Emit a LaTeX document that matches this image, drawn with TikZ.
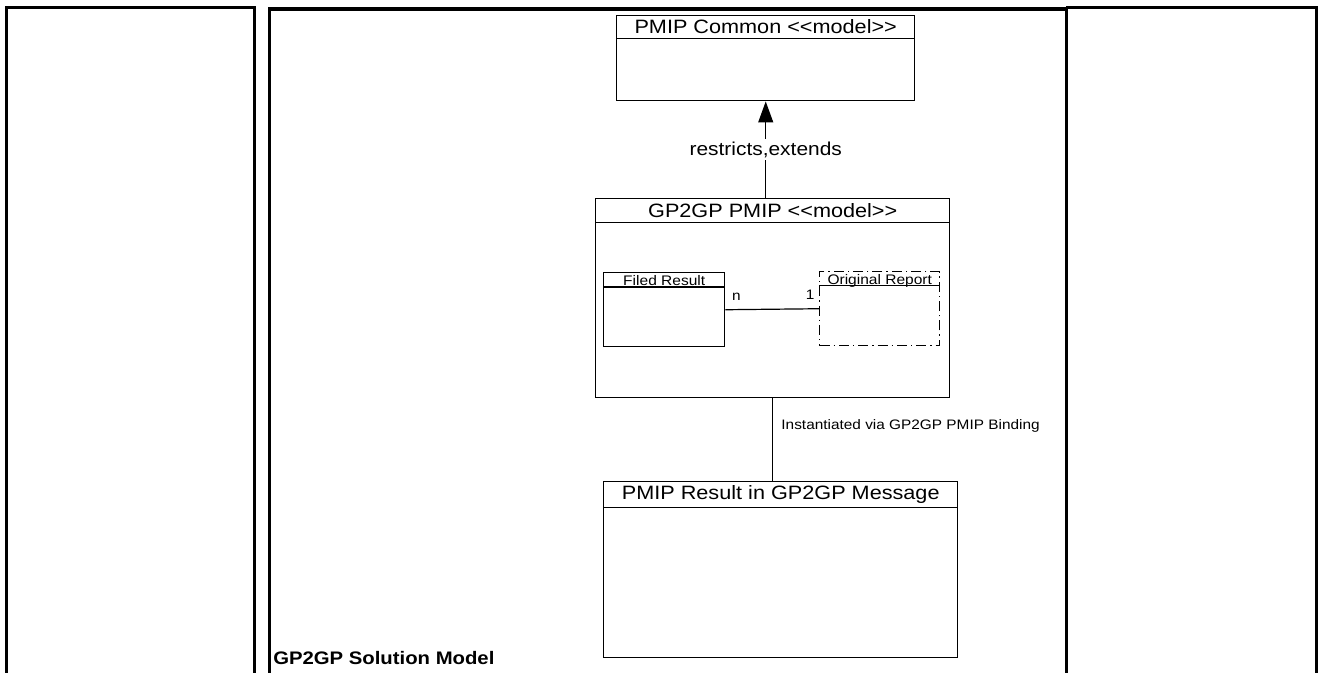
\documentclass[tikz,border=0pt]{standalone}
\usepackage{fontspec}
\setmainfont{Liberation Sans}[FakeStretch=1.12,Ligatures=TeXOff]
\usepackage{tikz}
\usetikzlibrary{arrows.meta,positioning}

\begin{document}
\begin{tikzpicture}[x=0.75pt,y=-0.75pt,
    frame/.style={line width=2.25pt},
    umlbox/.style={draw,line width=1.1pt,rectangle,anchor=north west,inner sep=0pt},
    bigtitle/.style={font=\fontsize{14.5pt}{16pt}\selectfont,inner sep=0pt,anchor=north},
    smalltitle/.style={font=\fontsize{10.4pt}{12pt}\selectfont,inner sep=0pt,anchor=base},
    lbl/.style={font=\fontsize{10.3pt}{12pt}\selectfont,inner sep=0pt},
    conn/.style={line width=0.9pt}]
    \useasboundingbox (0,0) rectangle (1322,673);
    % swimlane frame
    \draw[frame] (6,673) -- (6,8) -- (254,8) -- (254,673);
    \draw[frame] (269,673) -- (269,9) -- (1066,9) -- (1066,673);
    \draw[frame,line width=3pt] (269,9) -- (1066,9);
    \draw[frame] (1066,8) -- (1316,8) -- (1316,673);
    \node(sol)[anchor=west,inner sep=0pt,font=\bfseries\fontsize{13.6pt}{15pt}\selectfont] at (273,658) {GP2GP Solution Model};
    % models
    \node(pmc)[umlbox,minimum width=223.5pt,minimum height=63.75pt] at (616,15) {};
    \node(pmct)[bigtitle,minimum height=17.25pt] at (pmc.north) {PMIP Common <<model>>};
    \draw[line width=1.1pt] (pmc.west |- pmct.south) -- (pmc.east |- pmct.south);
    \node(gpm)[umlbox,minimum width=265.5pt,minimum height=149.25pt] at (595,198) {};
    \node(gpmt)[bigtitle,minimum height=18pt] at (gpm.north) {GP2GP PMIP <<model>>};
    \draw[line width=1.1pt] (gpm.west |- gpmt.south) -- (gpm.east |- gpmt.south);
    \node(res)[umlbox,minimum width=265.5pt,minimum height=132pt] at (603,481) {};
    \node(rest)[bigtitle,minimum height=19.5pt] at (res.north) {PMIP Result in GP2GP Message};
    \draw[line width=1.1pt] (res.west |- rest.south) -- (res.east |- rest.south);
    % classes
    \node(fr)[umlbox,minimum width=90.75pt,minimum height=55.5pt] at (603,272) {};
    \node(frt)[smalltitle] at ([yshift=-10.5pt]fr.north) {Filed Result};
    \draw[line width=1.1pt] ([yshift=-11.25pt]fr.north west) -- ([yshift=-11.25pt]fr.north east);
    \node(orp)[umlbox,minimum width=90pt,minimum height=55.5pt,
        dash pattern=on 7.5pt off 3pt on 1pt off 3pt] at (819,271) {};
    \node(orpt)[smalltitle] at ([yshift=-10pt]orp.north) {Original Report};
    \draw[line width=0.9pt] ([yshift=-11pt]orp.north west) -- ([yshift=-11pt]orp.north east);
    % connectors
    \draw[conn] (fr.east) -- node[lbl,pos=0,above right=6.75pt and 4.5pt]{n}
        node[lbl,pos=1,above left=6.75pt and 3pt]{1} (orp.west);
    \draw[line width=0.75pt,-{Triangle[length=15.75pt,width=11.25pt]}] (pmc.south |- gpm.north)
        -- node[fill=white,inner sep=2pt,font=\fontsize{14pt}{16pt}\selectfont]{restricts,extends} (pmc.south);
    \draw[line width=1.1pt] (gpm.south) -- node[lbl,pos=0.33,right=6pt]{Instantiated via GP2GP PMIP Binding}
        (gpm.south |- res.north);
\end{tikzpicture}
\end{document}
